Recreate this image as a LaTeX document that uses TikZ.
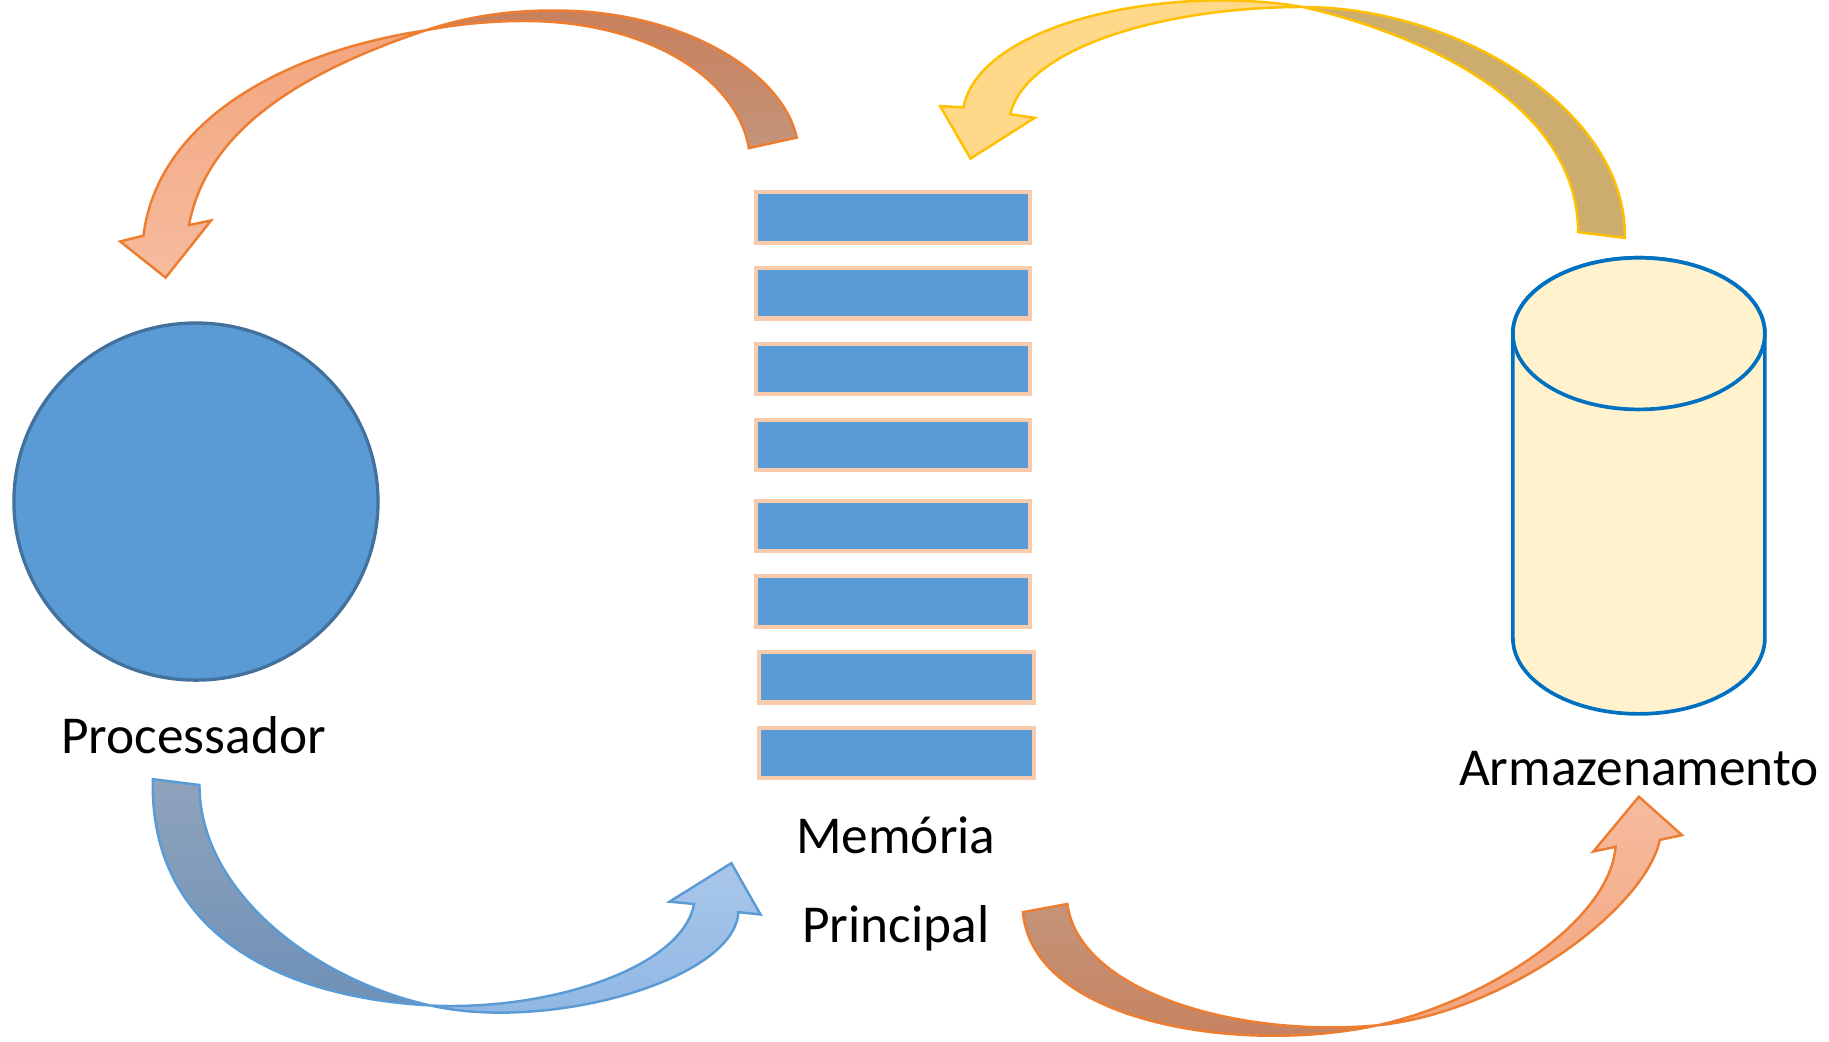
\documentclass[tikz,border=0pt]{standalone}
\usepackage{fontspec}
\setmainfont{Carlito}
\usepackage{tikz}
\usetikzlibrary{shapes.geometric, positioning}

\definecolor{azul}{HTML}{5B9BD5}
\definecolor{cpuborda}{HTML}{41719C}
\definecolor{barborda}{HTML}{F8CBAD}
\definecolor{discofundo}{HTML}{FFF2CC}
\definecolor{discoborda}{HTML}{0070C0}
\definecolor{laranja}{HTML}{ED7D31}
\definecolor{amarelo}{HTML}{FFC000}
\definecolor{marromA}{HTML}{C8805C}
\definecolor{marromB}{HTML}{C4947A}
\definecolor{salmaoA}{HTML}{F3A57E}
\definecolor{salmaoB}{HTML}{F6BB9E}
\definecolor{ouroescuro}{HTML}{CDAD6E}
\definecolor{ouroclaro}{HTML}{FFD88A}
\definecolor{cinzaazulA}{HTML}{8FA3BB}
\definecolor{cinzaazulB}{HTML}{6E90B8}
\definecolor{celesteA}{HTML}{A9C7EA}
\definecolor{celesteB}{HTML}{8DB5E3}

\begin{document}
\begin{tikzpicture}[x=0.01cm, y=-0.01cm, node distance=0.65cm, on grid,
   cpu/.style={ellipse, draw=cpuborda, fill=azul, line width=0.8pt,
      minimum width=3.12cm, minimum height=3.06cm, inner sep=0pt},
   membar/.style={rectangle, draw=barborda, fill=azul, line width=1pt,
      minimum width=2.35cm, minimum height=0.43cm, inner sep=0pt},
   disco/.style={draw=discoborda, fill=discofundo, line width=0.9pt},
   txt/.style={anchor=base, font=\fontsize{13}{16}\selectfont},
   orangeline/.style={draw=laranja, line width=0.6pt},
   yellowline/.style={draw=amarelo, line width=0.6pt},
   blueline/.style={draw=azul, line width=0.6pt}]
   \useasboundingbox (0,0) rectangle (1568,893.3);

   % 处理器
   \node[cpu] (cpu) at (168,430) {};
   \node[txt] (cpulbl) at (166,646) {Processador};

   % 主存
   \node[membar] (m1) at (765.5,186.5) {};
   \node[membar] (m2) [below=of m1] {};
   \node[membar] (m3) [below=of m2] {};
   \node[membar] (m4) [below=of m3] {};
   \node[membar] (m5) [below=0.69cm of m4] {};
   \node[membar] (m6) [below=of m5] {};
   \node[membar] (m7) [below=of m6, xshift=0.03cm] {};
   \node[membar] (m8) [below=of m7] {};
   \node[txt] (memlbl) at (768,732) {Memória};
   \node[txt] (prilbl) at (768,808) {Principal};

   % 存储
   \path[disco] (1297,286) -- (1297,547)
      arc[start angle=180, end angle=0, x radius=108, y radius=65]
      -- (1513,286)
      arc[start angle=0, end angle=-180, x radius=108, y radius=65] -- cycle;
   \draw[disco] (1405,286) ellipse [x radius=108, y radius=65];
   \coordinate (disco) at (1405,416);
   \node[txt] (armlbl) at (1405,673) {Armazenamento};

   % 主存 -> 处理器
   \path[orangeline, top color=marromA, bottom color=marromB]
      (683,118) .. controls (672,65) and (590,9) .. (475,9)
      .. controls (430,9) and (395,16) .. (365,26)
      .. controls (390,21) and (420,18) .. (450,18)
      .. controls (555,18) and (632,67) .. (642,127) -- cycle;
   \path[orangeline, top color=salmaoA, bottom color=salmaoB]
      (365,26) .. controls (240,45) and (135,105) .. (123,202)
      -- (103,207) -- (142,238) -- (181,189) -- (162,193)
      .. controls (177,113) and (255,63) .. (365,26) -- cycle;

   % 存储 -> 主存
   \path[yellowline, fill=ouroescuro]
      (1393,204) .. controls (1395,95) and (1250,6) .. (1117,6)
      .. controls (1200,25) and (1352,80) .. (1353,199) -- cycle;
   \path[yellowline, fill=ouroclaro]
      (1117,6) .. controls (1000,-14) and (840,20) .. (826,92)
      -- (806,91) -- (832,136) -- (887,101) -- (866,98)
      .. controls (880,40) and (1000,6) .. (1117,6) -- cycle;

   % 处理器 -> 主存
   \path[blueline, top color=cinzaazulA, bottom color=cinzaazulB]
      (131,668) .. controls (128,800) and (240,855) .. (369,862)
      .. controls (270,840) and (171,765) .. (171,673) -- cycle;
   \path[blueline, top color=celesteA, bottom color=celesteB]
      (369,862) .. controls (470,885) and (630,840) .. (633,782)
      -- (652,784) -- (627,740) -- (574,773) -- (595,775)
      .. controls (585,830) and (470,867) .. (369,862) -- cycle;

   % 主存 -> 存储
   \path[orangeline, top color=marromB, bottom color=marromA]
      (877,782) .. controls (885,875) and (1060,905) .. (1181,879)
      .. controls (1060,890) and (925,850) .. (915,775) -- cycle;
   \path[orangeline, top color=salmaoB, bottom color=salmaoA]
      (1181,879) .. controls (1290,868) and (1410,780) .. (1423,720)
      -- (1442,716) -- (1405,683) -- (1366,730) -- (1385,726)
      .. controls (1380,790) and (1275,858) .. (1181,879) -- cycle;
\end{tikzpicture}
\end{document}
